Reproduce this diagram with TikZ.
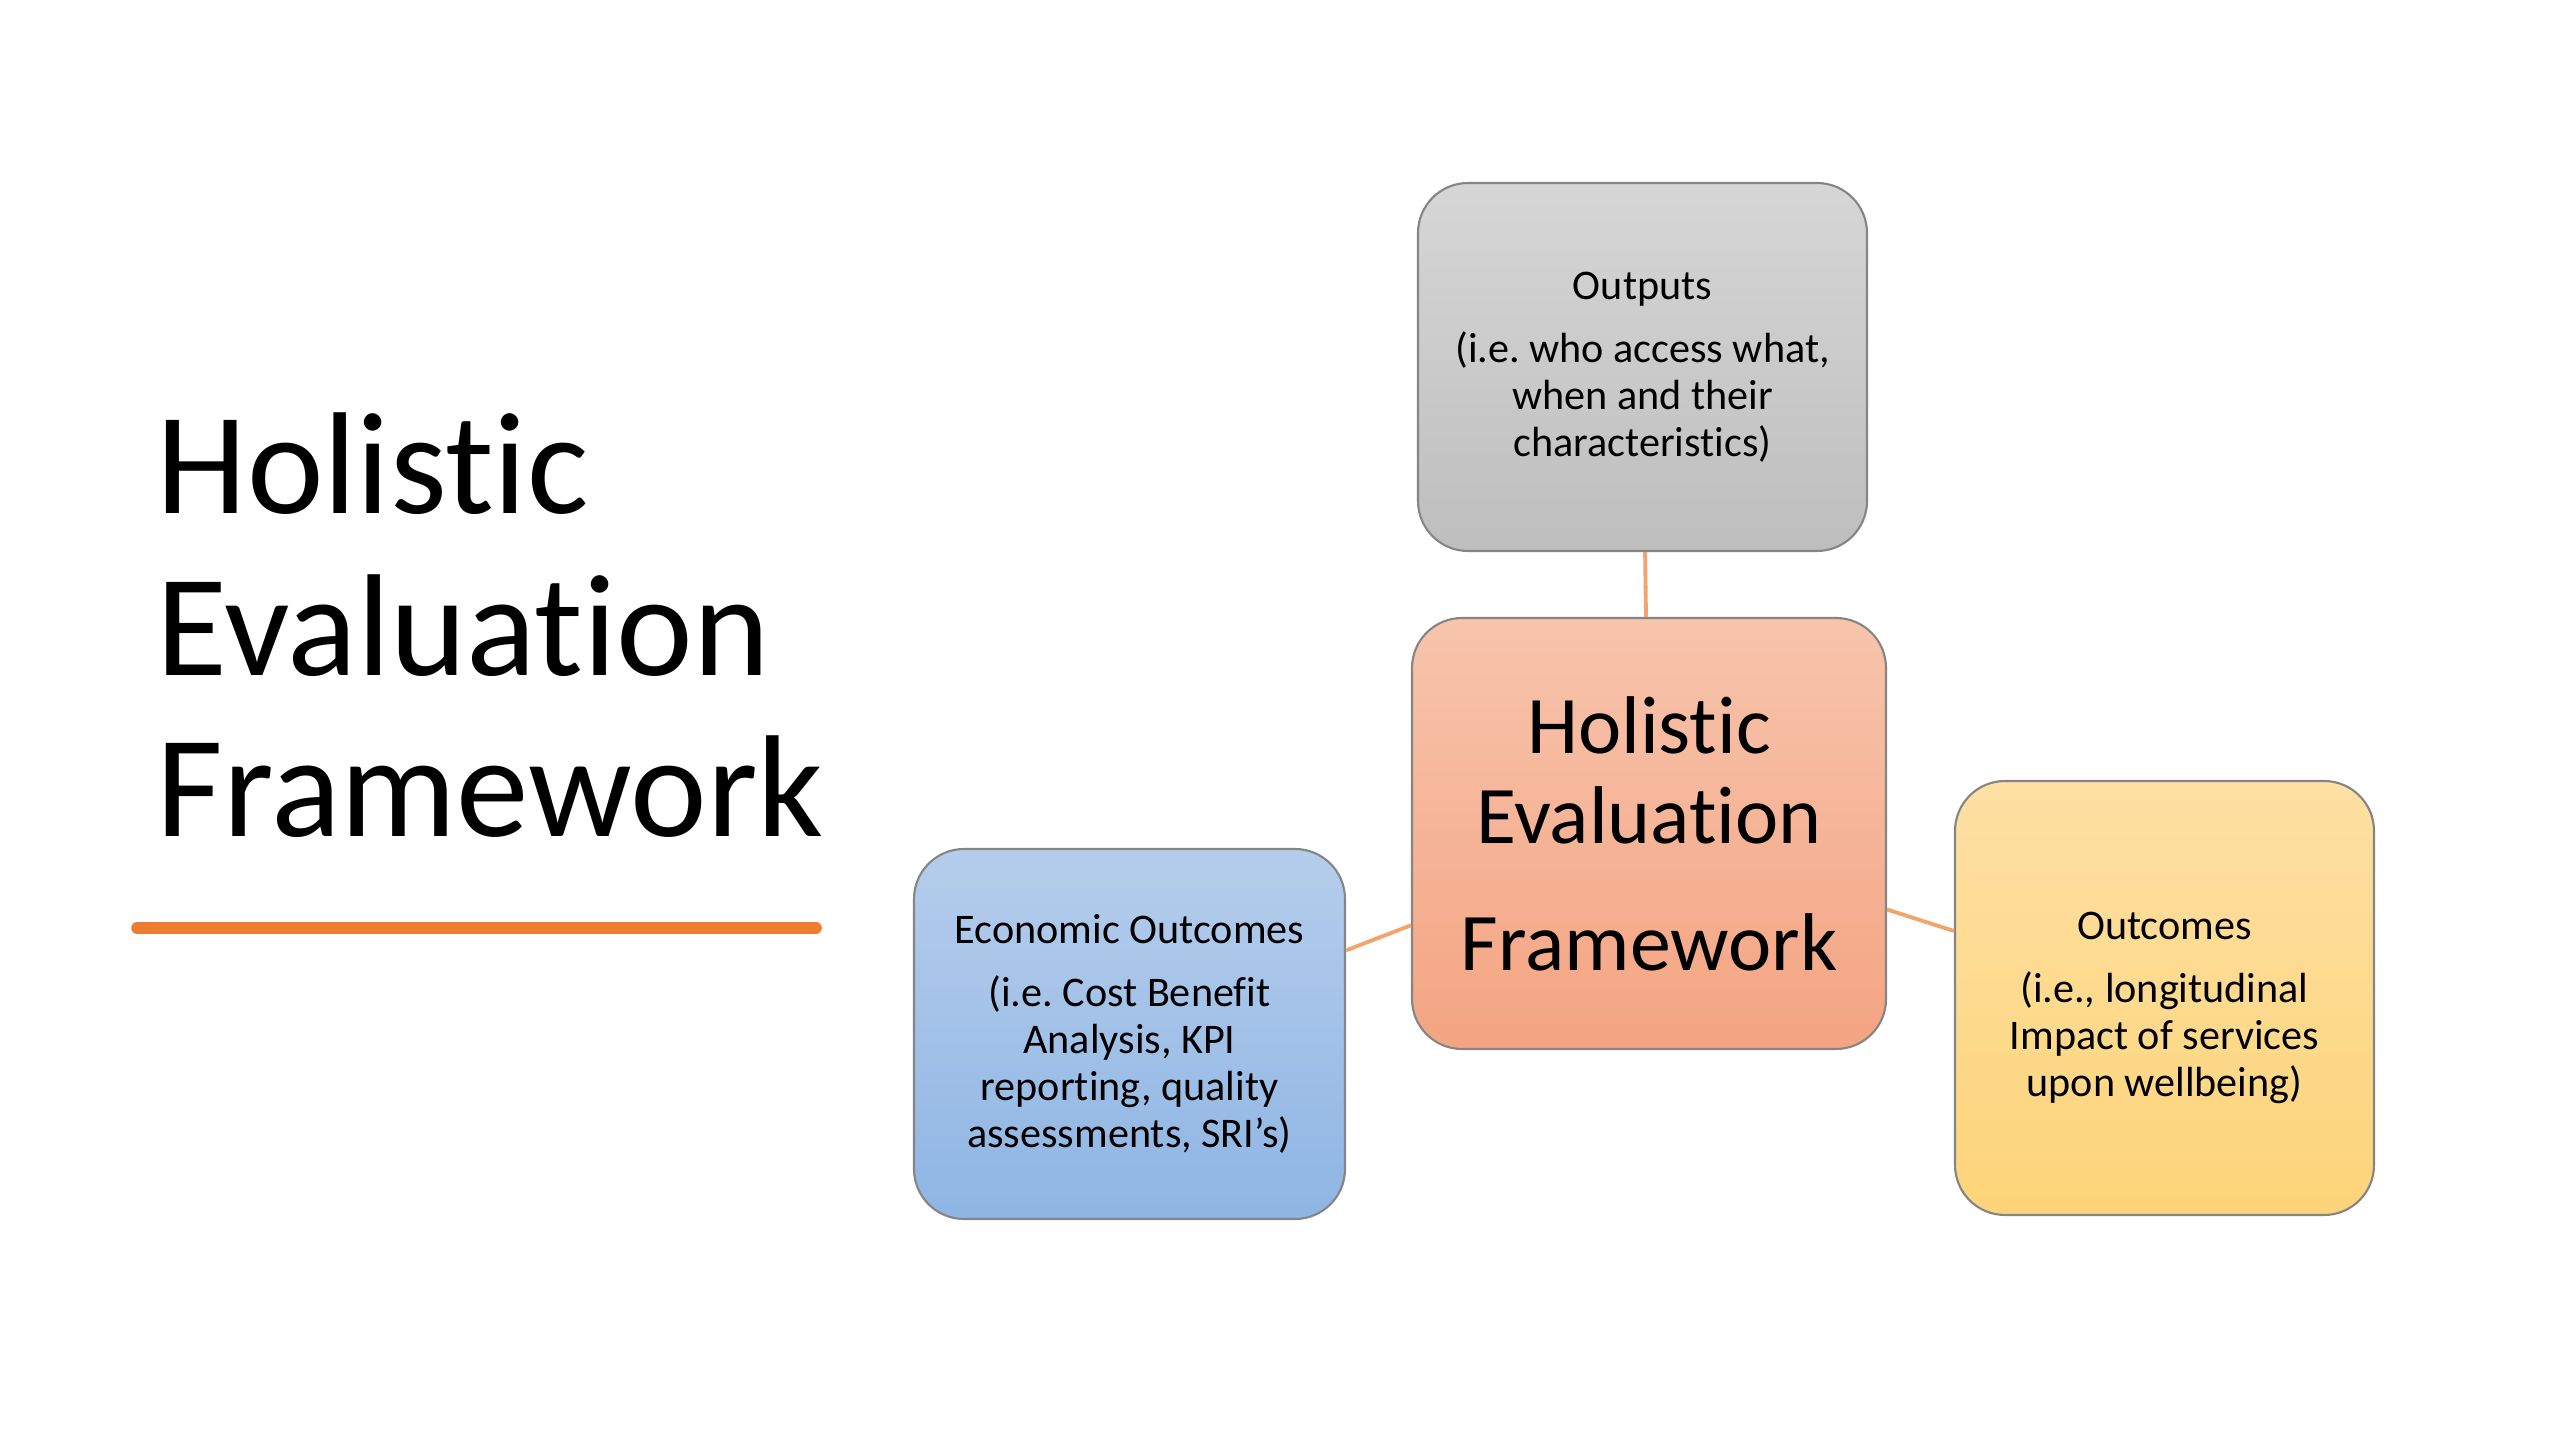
\documentclass[tikz,border=0pt]{standalone}
\usepackage{fontspec}
\setmainfont{Carlito}[Ligatures=NoCommon]
\usetikzlibrary{positioning}
\frenchspacing
\definecolor{accent}{HTML}{ED7D31}
\definecolor{linkorange}{HTML}{F2A46C}
\definecolor{rim}{HTML}{858585}
\definecolor{hubtop}{RGB}{247,196,172}
\definecolor{hubbot}{RGB}{244,164,130}
\definecolor{graytop}{RGB}{214,214,214}
\definecolor{graybot}{RGB}{190,190,190}
\definecolor{bluetop}{RGB}{181,205,236}
\definecolor{bluebot}{RGB}{142,181,227}
\definecolor{goldtop}{RGB}{254,224,164}
\definecolor{goldbot}{RGB}{253,212,121}
\begin{document}
\begin{tikzpicture}[x=1cm, y=1cm,
  box node/.style={rectangle, rounded corners=0.5cm, draw=rim, line width=0.6pt, align=center, inner sep=0pt, font=\fontsize{12pt}{13.4pt}\selectfont},
  hub node/.style={box node, font=\fontsize{23.3pt}{25.6pt}\selectfont},
  title node/.style={anchor=base west, inner sep=0pt, font=\fontsize{41.3pt}{46pt}\selectfont},
  link/.style={draw=linkorange, line width=1.1pt}]
\useasboundingbox (0,0) rectangle (25.6,14.4);
% left title
\node[title node] (t1) at (1.56,9.26) {Holistic};
\node[title node] (t2) at (1.56,7.64) {Evaluation};
\node[title node] (t3) at (1.56,6.03) {Framework};
\coordinate (ul) at (1.37,5.12);
\coordinate (ur) at (8.16,5.12);
\draw[accent, line width=3.3pt, line cap=round] (ul) -- (ur);
% boxes
\node[hub node, minimum width=4.74cm, minimum height=4.31cm, top color=hubtop, bottom color=hubbot] (hub) at (16.49,6.065)
  {Holistic\\Evaluation\\[0.37cm]Framework};
\node[box node, minimum width=4.49cm, minimum height=3.68cm, top color=graytop, bottom color=graybot] (outputs) at (16.425,10.73)
  {Outputs\\[0.16cm](i.e. who access what,\\when and their\\characteristics)};
\node[box node, minimum width=4.31cm, minimum height=3.70cm, top color=bluetop, bottom color=bluebot] (econ) at (11.295,4.06)
  {Economic Outcomes\\[0.16cm](i.e. Cost Benefit\\Analysis, KPI\\reporting, quality\\assessments, SRI’s)};
\node[box node, minimum width=4.19cm, minimum height=4.34cm, top color=goldtop, bottom color=goldbot] (outcomes) at (21.645,4.42)
  {Outcomes\\[0.16cm](i.e., longitudinal\\Impact of services\\upon wellbeing)\\[-0.6cm]};
% connectors
\draw[link] (outputs) -- (hub);
\draw[link] (econ) -- (hub);
\draw[link] (hub) -- (outcomes);
\end{tikzpicture}
\end{document}
